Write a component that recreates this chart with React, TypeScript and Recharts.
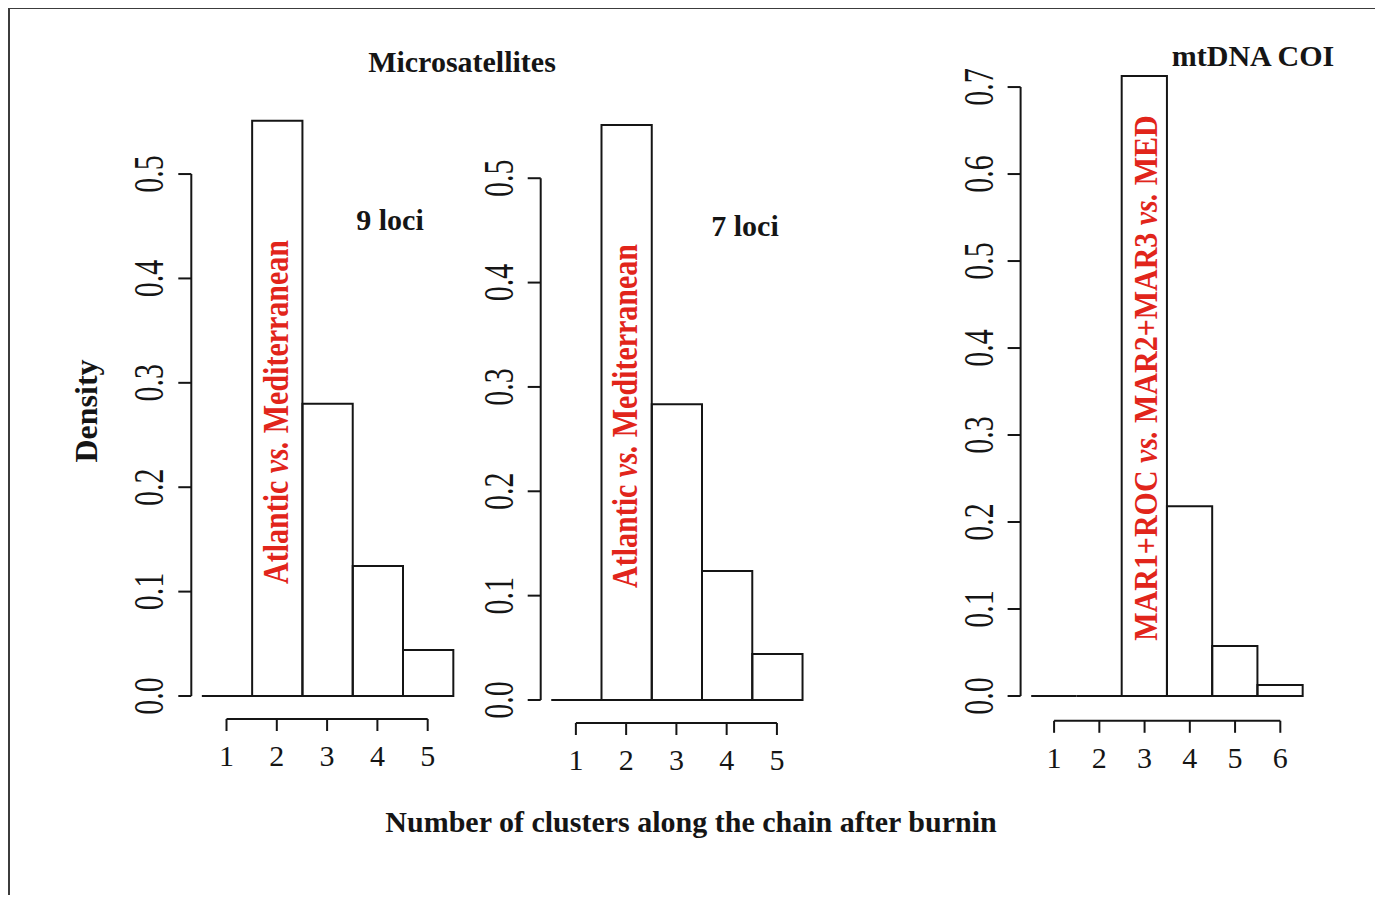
import React from "react";
import { BarChart, Bar, XAxis, YAxis, ReferenceLine } from "recharts";

// histogram densities (bins centred on cluster counts)
const clusters9 = [1, 2, 3, 4, 5];
const density9 = [0, 0.551, 0.28, 0.1245, 0.044];
const clusters7 = [1, 2, 3, 4, 5];
const density7 = [0, 0.551, 0.2835, 0.1236, 0.044];
const clustersCOI = [1, 2, 3, 4, 5, 6];
const densityCOI = [0, 0, 0.7126, 0.218, 0.0575, 0.0126];
const ticksMicro = [0, 0.1, 0.2, 0.3, 0.4, 0.5];
const ticksCOI = [0, 0.1, 0.2, 0.3, 0.4, 0.5, 0.6, 0.7];

const FONT = "'Liberation Serif', 'Times New Roman', serif";
const INK = "#151515";
const RED = "#e1251b";
const OX = 8; // page origin of the wrapper
const OY = 7;

const XTick = (props: any) => {
  const { x, y, payload } = props;
  return (
    <text x={x} y={y + 33} textAnchor="middle" fontFamily={FONT} fontSize={30} fill={INK}>
      {payload.value}
    </text>
  );
};

const YTick = (props: any) => {
  const { x, y, payload } = props;
  return (
    <text
      transform={`translate(${x - 13},${y}) rotate(-90) scale(1,1.38)`}
      textAnchor="middle" fontFamily={FONT} fontSize={30} fill={INK}
    >
      {Number(payload.value).toFixed(1)}
    </text>
  );
};

// draws a histogram bin of full bin width around the bar's centre; a zero bin becomes a flat line
const makeBinShape = (binW: number) => (props: any) => {
  const { x, y, width, height } = props;
  const cx = x + width / 2;
  const x0 = cx - binW / 2;
  const x1 = cx + binW / 2;
  return (
    <path d={`M${x0},${y + height}V${y}H${x1}V${y + height}Z`}
      fill="none" stroke={INK} strokeWidth={2} />
  );
};

interface HistProps {
  clusters: number[];
  density: number[];
  yTicks: number[];
  box: { left: number; top: number; width: number; height: number };
  plot: { left: number; right: number; top: number; bottom: number };
}

function Hist({ clusters, density, yTicks, box, plot }: HistProps) {
  const data = clusters.map((k, i) => ({ k, d: density[i] }));
  const n = clusters.length;
  // R style 4% axis extension
  const xDomain = [0.5 - 0.04 * n, n + 0.5 + 0.04 * n];
  const maxD = Math.max(...density);
  const yDomain = [-0.04 * maxD, maxD * 1.04];
  const unit = (plot.right - plot.left) / (xDomain[1] - xDomain[0]);
  const xAxisH = 60;
  const BinShape = makeBinShape(unit);
  return (
    <div style={{ position: "absolute", left: box.left - OX, top: box.top - OY }}>
      <BarChart
        width={box.width} height={box.height} data={data}
        margin={{
          top: plot.top - box.top,
          right: box.left + box.width - plot.right,
          left: 0,
          bottom: box.top + box.height - plot.bottom - xAxisH,
        }}
        barCategoryGap={0} barGap={0}
      >
        <XAxis type="number" dataKey="k" domain={xDomain} ticks={clusters} interval={0}
          allowDataOverflow axisLine={false} tickSize={12}
          tickLine={{ stroke: INK, strokeWidth: 2 }} height={xAxisH} tick={<XTick />} />
        <YAxis type="number" domain={yDomain} ticks={yTicks} interval={0}
          allowDataOverflow axisLine={false} tickSize={13} width={plot.left - box.left}
          tickLine={{ stroke: INK, strokeWidth: 2 }} tick={<YTick />} />
        <ReferenceLine ifOverflow="visible" stroke={INK} strokeWidth={2}
          segment={[{ x: xDomain[0], y: 0 }, { x: xDomain[0], y: yTicks[yTicks.length - 1] }]} />
        <ReferenceLine ifOverflow="visible" stroke={INK} strokeWidth={2}
          segment={[{ x: clusters[0], y: yDomain[0] }, { x: clusters[n - 1], y: yDomain[0] }]} />
        <Bar dataKey="d" barSize={unit} shape={BinShape} isAnimationActive={false} />
      </BarChart>
    </div>
  );
}

const VS = () => <tspan fontStyle="italic">vs.</tspan>;

export default function App() {
  return (
    <div style={{ position: "relative", width: 1371, height: 888, marginTop: -1, fontFamily: FONT }}>
      <div style={{
        position: "absolute", left: 0, top: 0, width: 1371, height: 896, boxSizing: "border-box",
        borderTop: "2px solid #3c3c3c", borderLeft: "2px solid #3c3c3c", borderRight: "2px solid #3c3c3c",
      }} />
      <Hist clusters={clusters9} density={density9} yTicks={ticksMicro}
        box={{ left: 100, top: 80, width: 400, height: 720 }}
        plot={{ left: 191.3, right: 462.9, top: 97.8, bottom: 719 }} />
      <Hist clusters={clusters7} density={density7} yTicks={ticksMicro}
        box={{ left: 450, top: 80, width: 400, height: 720 }}
        plot={{ left: 540.7, right: 812.1, top: 102, bottom: 723 }} />
      <Hist clusters={clustersCOI} density={densityCOI} yTicks={ticksCOI}
        box={{ left: 930, top: 30, width: 420, height: 770 }}
        plot={{ left: 1020.6, right: 1313.8, top: 51.3, bottom: 720.8 }} />
      <svg width={1383} height={903}
        style={{ position: "absolute", left: -OX, top: -OY, pointerEvents: "none" }}
        fontFamily={FONT} fontWeight="bold">
        <text x={462} y={72} textAnchor="middle" fontSize={30} fill={INK}>Microsatellites</text>
        <text x={390} y={230} textAnchor="middle" fontSize={30} fill={INK}>9 loci</text>
        <text x={745} y={236} textAnchor="middle" fontSize={30} fill={INK}>7 loci</text>
        <text x={1253} y={66} textAnchor="middle" fontSize={30} fill={INK}>mtDNA COI</text>
        <text x={691} y={832} textAnchor="middle" fontSize={30} fill={INK}>
          Number of clusters along the chain after burnin
        </text>
        <text transform="translate(97,411) rotate(-90)" textAnchor="middle" fontSize={32} fill={INK}>
          Density
        </text>
        <text transform="translate(288,412) rotate(-90) scale(1,1.22)" textAnchor="middle" fontSize={30} fill={RED}>
          Atlantic <VS /> Mediterranean
        </text>
        <text transform="translate(637,416) rotate(-90) scale(1,1.22)" textAnchor="middle" fontSize={30} fill={RED}>
          Atlantic <VS /> Mediterranean
        </text>
        <text transform="translate(1157,378) rotate(-90) scale(1,1.1)" textAnchor="middle" fontSize={30} fill={RED}>
          MAR1+ROC <VS /> MAR2+MAR3 <VS /> MED
        </text>
      </svg>
    </div>
  );
}
